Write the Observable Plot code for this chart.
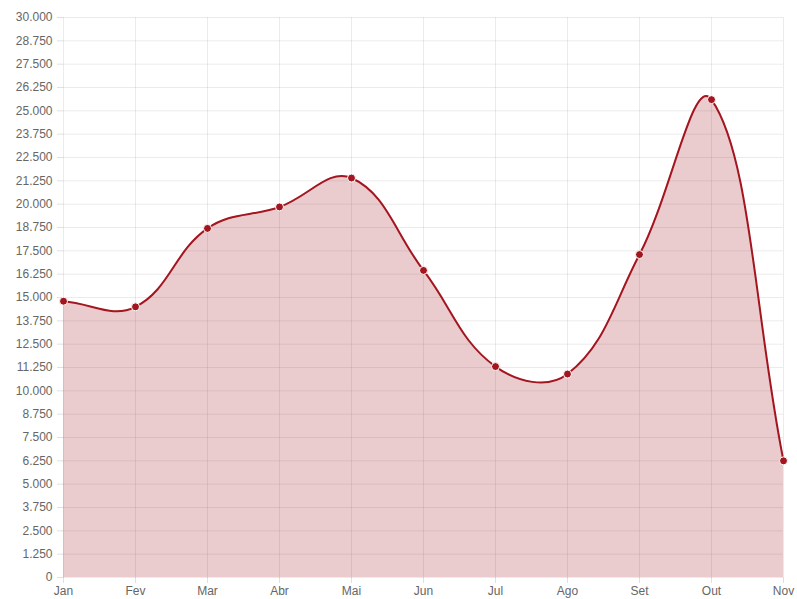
<!DOCTYPE html>
<html>
<head>
<meta charset="utf-8">
<script src="https://cdn.jsdelivr.net/npm/d3@7"></script>
<script src="https://cdn.jsdelivr.net/npm/@observablehq/plot@0.6"></script>
<style>
  html, body { margin: 0; padding: 0; background: #fff; }
  #chart svg { display: block; }
</style>
</head>
<body>
<div id="chart"></div>
<script>
const months = ["Jan", "Fev", "Mar", "Abr", "Mai", "Jun", "Jul", "Ago", "Set", "Out", "Nov"];
const values = [14800, 14500, 18700, 19850, 21400, 16450, 11300, 10900, 17300, 25600, 6250];
const yTicks = d3.range(0, 30001, 1250);

const data = months.map((m, i) => ({month: m, value: values[i]}));
const fmt = d3.formatLocale({decimal: ",", thousands: ".", grouping: [3], currency: ["R$", ""]}).format(",");

// Spline curve in the style of Chart.js (tension 0.4, distance-weighted control points)
function splineCurve(context) {
  const T = 0.4;
  return {
    _context: context,
    _line: NaN,
    areaStart() { this._line = 0; },
    areaEnd() { this._line = NaN; },
    lineStart() { this._pts = []; },
    point(x, y) { this._pts.push([+x, +y]); },
    lineEnd() {
      const p = this._pts, n = p.length, ctx = this._context;
      if (n) {
        if (this._line) ctx.lineTo(p[0][0], p[0][1]); else ctx.moveTo(p[0][0], p[0][1]);
        const cpPrev = [], cpNext = [];
        for (let i = 0; i < n; i++) {
          const cur = p[i], prev = p[i - 1] || cur, next = p[i + 1] || cur;
          const d01 = Math.hypot(cur[0] - prev[0], cur[1] - prev[1]);
          const d12 = Math.hypot(next[0] - cur[0], next[1] - cur[1]);
          let s01 = d01 / (d01 + d12), s12 = d12 / (d01 + d12);
          if (!isFinite(s01)) s01 = 0;
          if (!isFinite(s12)) s12 = 0;
          const fa = T * s01, fb = T * s12;
          const dx = next[0] - prev[0], dy = next[1] - prev[1];
          cpPrev.push([cur[0] - fa * dx, cur[1] - fa * dy]);
          cpNext.push([cur[0] + fb * dx, cur[1] + fb * dy]);
        }
        for (let i = 0; i < n - 1; i++) {
          ctx.bezierCurveTo(cpNext[i][0], cpNext[i][1], cpPrev[i + 1][0], cpPrev[i + 1][1], p[i + 1][0], p[i + 1][1]);
        }
      }
      if (this._line || (this._line !== 0 && n === 1)) ctx.closePath();
      this._line = 1 - this._line;
    }
  };
}

const lineColor = "#a3151f";

const chart = Plot.plot({
  width: 797,
  height: 599,
  marginLeft: 63,
  marginRight: 14,
  marginTop: 17,
  marginBottom: 22,
  style: {fontFamily: "'Liberation Sans', Arial, sans-serif", fontSize: "12px", color: "#666", background: "#fff"},
  x: {type: "point", domain: months, padding: 0, label: null},
  y: {domain: [0, 30000], label: null},
  marks: [
    Plot.gridY(yTicks, {stroke: "#000", strokeOpacity: 0.08}),
    Plot.gridX(months, {stroke: "#000", strokeOpacity: 0.08}),
    Plot.axisY(yTicks, {tickFormat: fmt, tickSize: 6, tickPadding: 5, stroke: "#000", strokeOpacity: 0.12, fill: "#666", fontSize: 12}),
    Plot.axisX(months, {tickSize: 6, tickPadding: 3, stroke: "#000", strokeOpacity: 0.12, fill: "#666", fontSize: 12}),
    Plot.areaY(data, {x: "month", y: "value", fill: "rgba(163,21,31,0.22)", curve: splineCurve}),
    Plot.lineY(data, {x: "month", y: "value", stroke: lineColor, strokeWidth: 2, curve: splineCurve}),
    Plot.dot(data, {x: "month", y: "value", r: 4, fill: lineColor, stroke: "#fff", strokeWidth: 1})
  ]
});
document.getElementById("chart").appendChild(chart);
</script>
</body>
</html>
